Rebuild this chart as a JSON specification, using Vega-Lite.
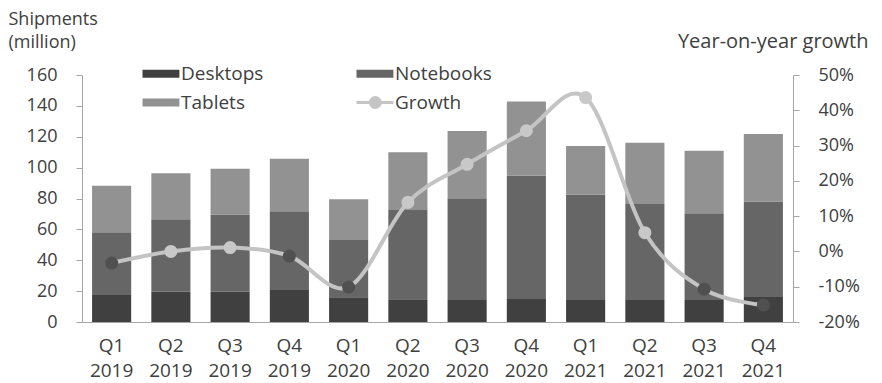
{
  "$schema": "https://vega.github.io/schema/vega-lite/v6.json",
  "width": 711,
  "height": 247,
  "autosize": {"type": "none"},
  "padding": {"left": 82, "top": 75, "right": 89, "bottom": 61},
  "background": "white",
  "config": {
    "view": {"stroke": null},
    "font": "Open Sans",
    "axis": {
      "grid": false,
      "domainColor": "#a6a6a6",
      "tickColor": "#a6a6a6",
      "labelColor": "#404040",
      "titleColor": "#404040",
      "labelFont": "Open Sans",
      "titleFont": "Open Sans",
      "titleFontWeight": "normal"
    }
  },
  "data": {
    "values": [
      {"quarter": "Q1 2019", "Desktops": 17.5, "Notebooks": 40.6, "Tablets": 30.2, "growth": -3.3},
      {"quarter": "Q2 2019", "Desktops": 19.6, "Notebooks": 46.9, "Tablets": 29.8, "growth": 0.0},
      {"quarter": "Q3 2019", "Desktops": 19.6, "Notebooks": 50.1, "Tablets": 29.6, "growth": 1.1},
      {"quarter": "Q4 2019", "Desktops": 20.7, "Notebooks": 51.0, "Tablets": 34.1, "growth": -1.3},
      {"quarter": "Q1 2020", "Desktops": 16.0, "Notebooks": 37.1, "Tablets": 26.4, "growth": -10.1},
      {"quarter": "Q2 2020", "Desktops": 14.7, "Notebooks": 57.8, "Tablets": 37.5, "growth": 13.9},
      {"quarter": "Q3 2020", "Desktops": 14.2, "Notebooks": 65.9, "Tablets": 43.6, "growth": 24.7},
      {"quarter": "Q4 2020", "Desktops": 14.9, "Notebooks": 79.9, "Tablets": 48.1, "growth": 34.2},
      {"quarter": "Q1 2021", "Desktops": 14.2, "Notebooks": 68.3, "Tablets": 31.5, "growth": 43.6},
      {"quarter": "Q2 2021", "Desktops": 14.2, "Notebooks": 62.2, "Tablets": 39.7, "growth": 5.3},
      {"quarter": "Q3 2021", "Desktops": 14.2, "Notebooks": 56.2, "Tablets": 40.6, "growth": -10.7},
      {"quarter": "Q4 2021", "Desktops": 16.2, "Notebooks": 61.7, "Tablets": 43.9, "growth": -15.2}
    ]
  },
  "encoding": {
    "x": {
      "field": "quarter",
      "type": "nominal",
      "sort": null,
      "scale": {"paddingInner": 0.34, "paddingOuter": 0.17},
      "axis": {
        "title": null,
        "ticks": false,
        "labelAngle": 0,
        "labelExpr": "split(datum.label, ' ')",
        "labelFontSize": 19,
        "labelLineHeight": 25,
        "labelPadding": 14
      }
    }
  },
  "layer": [
    {
      "transform": [{"fold": ["Desktops", "Notebooks", "Tablets"], "as": ["type", "shipments"]}],
      "mark": {"type": "bar"},
      "encoding": {
        "y": {
          "field": "shipments",
          "type": "quantitative",
          "stack": "zero",
          "scale": {"domain": [0, 160]},
          "axis": {
            "title": ["Shipments", "(million)"],
            "titleAngle": 0,
            "titleAlign": "left",
            "titleBaseline": "alphabetic",
            "titleX": -74,
            "titleY": -51,
            "titleFontSize": 18,
            "titleLineHeight": 23,
            "values": [0, 20, 40, 60, 80, 100, 120, 140, 160],
            "labelFontSize": 18,
            "labelPadding": 19,
            "tickSize": 6
          }
        },
        "order": {"field": "type", "type": "nominal", "sort": "ascending"},
        "color": {
          "field": "type",
          "type": "nominal",
          "scale": {
            "domain": ["Desktops", "Notebooks", "Tablets", "Growth"],
            "range": ["#404040", "#666666", "#929292", "#c4c4c4"]
          },
          "legend": {
            "title": null,
            "orient": "none",
            "legendX": 60,
            "legendY": -11,
            "columns": 2,
            "direction": "horizontal",
            "padding": 0,
            "symbolSize": 324,
            "symbolType": "M-1,-0.44H3.1V0.44H-1Z",
            "symbolStrokeWidth": 0,
            "labelOffset": 20,
            "labelFontSize": 19,
            "labelFont": "Open Sans",
            "labelColor": "#404040",
            "columnPadding": 86,
            "rowPadding": 7,
            "encode": {
              "symbols": {
                "update": {
                  "shape": {"signal": "datum.value === 'Growth' ? 'M-1,0H3.1M0.54,0A0.55,0.55,0,1,0,1.64,0A0.55,0.55,0,1,0,0.54,0Z' : 'M-1,-0.44H3.1V0.44H-1Z'"},
                  "stroke": {"signal": "datum.value === 'Growth' ? '#c4c4c4' : 'transparent'"},
                  "strokeWidth": {"signal": "datum.value === 'Growth' ? 3 : 0"},
                  "fill": {"scale": "color", "field": "value"},
                  "opacity": {"value": 1}
                }
              }
            }
          }
        }
      }
    },
    {
      "encoding": {
        "y": {
          "field": "growth",
          "type": "quantitative",
          "scale": {"domain": [-20, 50]},
          "axis": {
            "orient": "right",
            "title": "Year-on-year growth",
            "titleAngle": 0,
            "titleAlign": "right",
            "titleBaseline": "alphabetic",
            "titleX": 75,
            "titleY": -28,
            "titleFontSize": 20,
            "values": [-20, -10, 0, 10, 20, 30, 40, 50],
            "labelExpr": "datum.value + '%'",
            "labelFontSize": 18,
            "labelPadding": 19,
            "tickSize": 6
          }
        }
      },
      "layer": [
        {
          "mark": {"type": "line", "interpolate": "cardinal", "strokeWidth": 4},
          "encoding": {"color": {"datum": "Growth", "type": "nominal"}}
        },
        {
          "mark": {"type": "circle", "size": 170, "opacity": 1},
          "encoding": {
            "color": {
              "condition": {"test": "datum.growth < 0", "value": "#505050"},
              "value": "#c8c8c8"
            }
          }
        }
      ]
    }
  ],
  "resolve": {"scale": {"y": "independent"}}
}
